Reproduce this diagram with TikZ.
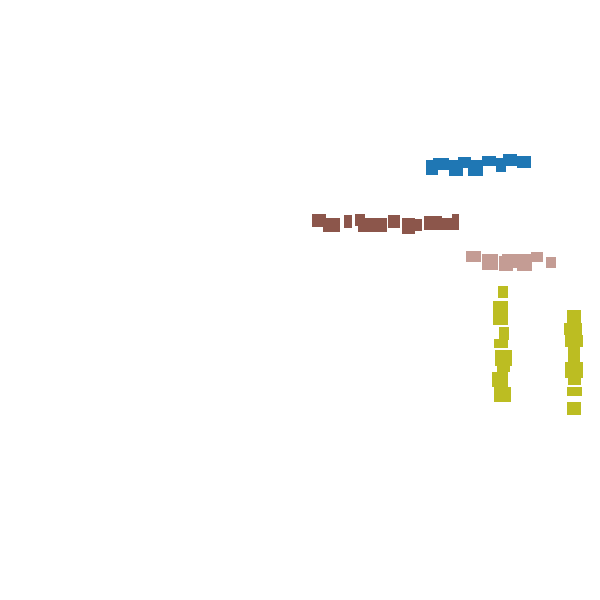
\documentclass[tikz,border=0pt]{standalone}
\definecolor{tblue}{HTML}{1F77B4}
\definecolor{tbrown}{HTML}{8C564B}
\definecolor{tpink}{HTML}{C49C94}
\definecolor{tolive}{HTML}{BCBD22}
\tikzset{
  bl/.style={fill=tblue},
  br/.style={fill=tbrown},
  pk/.style={fill=tpink},
  ol/.style={fill=tolive}
}
\begin{document}
\begin{tikzpicture}[x=1pt,y=-1pt]
\useasboundingbox (0,0) rectangle (600,600);
% blue
\foreach \a/\b/\c/\d in {426/160/438/175, 433/158/449/170, 449/160/463/176, 458/157/471/168, 468/160/483/176, 482/156/496/166, 496/158/506/172, 503/154/517/166, 517/156/531/168}
  \path[bl] (\a,\b) rectangle (\c,\d);
% brown
\foreach \a/\b/\c/\d in {312/214/326/227, 323/218/340/232, 344/215/352/228, 355/214/365/226, 358/218/373/232, 373/218/387/232, 388/215/400/228, 402/218/415/234, 412/219/422/231, 424/216/442/230, 442/218/453/230, 452/214/459/230}
  \path[br] (\a,\b) rectangle (\c,\d);
% pink
\foreach \a/\b/\c/\d in {466/251/481/262, 482/254/498/270, 499/256/513/271, 502/254/517/268, 517/254/532/271, 531/252/543/262, 546/257/556/268}
  \path[pk] (\a,\b) rectangle (\c,\d);
% olive left
\foreach \a/\b/\c/\d in {498/286/508/298, 493/301/508/325, 499/327/509/340, 494/339/508/348, 495/350/512/366, 497/365/510/372, 492/372/508/387, 494/387/511/402}
  \path[ol] (\a,\b) rectangle (\c,\d);
% olive right
\foreach \a/\b/\c/\d in {567/310/581/323, 564/323/582/335, 565/335/583/347, 568/347/580/362, 565/362/583/378, 568/378/581/385, 567/387/582/396, 567/402/581/415}
  \path[ol] (\a,\b) rectangle (\c,\d);
\end{tikzpicture}
\end{document}
